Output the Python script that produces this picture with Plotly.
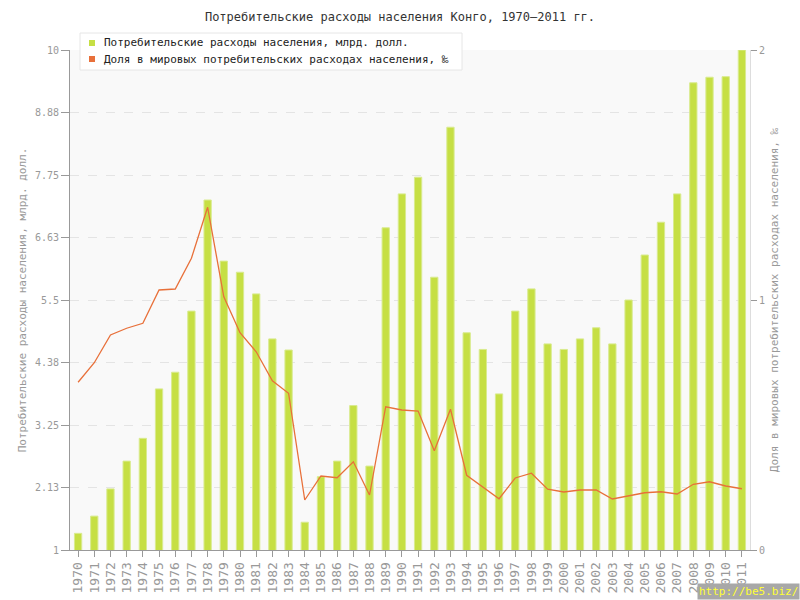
import plotly.graph_objects as go

years = [str(y) for y in range(1970, 2012)]
spending = [1.30, 1.61, 2.10, 2.60, 3.01, 3.90, 4.20, 5.30, 7.30, 6.20,
            6.00, 5.61, 4.80, 4.60, 1.50, 2.32, 2.60, 3.60, 2.51, 6.80,
            7.41, 7.71, 5.91, 8.61, 4.91, 4.61, 3.81, 5.30, 5.70, 4.71,
            4.61, 4.80, 5.00, 4.71, 5.50, 6.31, 6.90, 7.41, 9.41, 9.51,
            9.52, 10.0]
share = [0.671, 0.749, 0.860, 0.887, 0.907, 1.040, 1.044, 1.167, 1.371, 1.013,
         0.869, 0.793, 0.677, 0.627, 0.200, 0.296, 0.289, 0.353, 0.220, 0.573,
         0.560, 0.556, 0.397, 0.563, 0.299, 0.253, 0.205, 0.288, 0.307, 0.243,
         0.232, 0.240, 0.240, 0.204, 0.216, 0.229, 0.233, 0.224, 0.263, 0.273,
         0.256, 0.245]
left_ticks = [1, 2.13, 3.25, 4.38, 5.5, 6.63, 7.75, 8.88, 10]
left_tick_text = ["1", "2.13", "3.25", "4.38", "5.5", "6.63", "7.75", "8.88", "10"]
right_ticks = [0, 1, 2]

name1 = "Потребительские расходы населения, млрд. долл."
name2 = "Доля в мировых потребительских расходах населения, ‰"
bar_color = "#c6df44"
line_color = "#e8703a"
font_family = "DejaVu Sans Mono, Liberation Mono, monospace"

# plot-area geometry in pixels (for legend / watermark placement)
L, R, T, B = 70, 750, 50, 550
W, H = R - L, B - T


def px(x):
    return (x - L) / W


def py(y):
    return (B - y) / H


fig = go.Figure()
fig.add_trace(go.Bar(x=years, y=spending, name=name1, width=0.45,
                     marker=dict(color=bar_color, line=dict(color="#d9eb8f", width=1)),
                     showlegend=False, yaxis="y"))
fig.add_trace(go.Scatter(x=years, y=share, name=name2, mode="lines",
                         line=dict(color=line_color, width=1.3),
                         showlegend=False, yaxis="y2"))

# vertical dashed grid lines drawn over bars
for y in years:
    fig.add_shape(type="line", xref="x", yref="paper", x0=y, x1=y, y0=0, y1=1,
                  line=dict(color="#e4e4e4", width=1, dash="dash"), layer="above")

# legend drawn manually
fig.add_shape(type="rect", xref="paper", yref="paper",
              x0=px(80), x1=px(462), y0=py(70), y1=py(33),
              fillcolor="white", line=dict(color="#e6e6e6", width=1), layer="above")
annotations = []
for i, (nm, col) in enumerate([(name1, bar_color), (name2, line_color)]):
    yc = 43 + 16 * i
    fig.add_shape(type="rect", xref="paper", yref="paper",
                  x0=px(89), x1=px(95), y0=py(yc + 3), y1=py(yc - 3),
                  fillcolor=col, line=dict(width=0), layer="above")
    annotations.append(dict(text=nm, xref="paper", yref="paper", x=px(102), y=py(yc),
                            xanchor="left", yanchor="middle", showarrow=False,
                            font=dict(size=11, color="#222", family=font_family)))

annotations.append(dict(text="http://be5.biz/", xref="paper", yref="paper",
                        x=px(800), y=py(600), xanchor="right", yanchor="bottom",
                        showarrow=False, bgcolor="#a8a8a8", borderpad=1,
                        font=dict(size=11, color="#ffff33", family=font_family)))

fig.update_layout(
    width=800, height=600,
    margin=dict(l=L, r=800 - R, t=T, b=600 - B),
    paper_bgcolor="white", plot_bgcolor="#f9f9f9",
    font=dict(family=font_family, size=10, color="#999"),
    showlegend=False,
    title=dict(text="Потребительские расходы населения Конго, 1970–2011 гг.",
               x=0.5, xanchor="center", y=1 - 17 / 600, yanchor="middle",
               font=dict(size=12, color="#333", family=font_family)),
    xaxis=dict(type="category", range=[-0.5, 41.5], showgrid=False, automargin=False,
               tickmode="array", tickvals=years, ticktext=years,
               tickangle=-90, ticks="outside", ticklen=6, tickcolor="#999",
               showline=True, linecolor="#999", linewidth=1,
               tickfont=dict(size=13, color="#999")),
    yaxis=dict(range=[1, 10], tickvals=left_ticks, ticktext=left_tick_text,
               showgrid=True, gridcolor="#e4e4e4", griddash="dash", automargin=False,
               ticks="outside", ticklen=8, tickcolor="#999",
               showline=True, linecolor="#999", linewidth=1, zeroline=False,
               title=dict(text=name1, font=dict(size=11, color="#999"), standoff=6),
               tickfont=dict(size=10, color="#999")),
    yaxis2=dict(range=[0, 2], tickvals=right_ticks, overlaying="y", side="right",
                showgrid=False, zeroline=False, ticks="outside", ticklen=6,
                automargin=False,
                tickcolor="#999", showline=True, linecolor="#dddddd",
                title=dict(text=name2, font=dict(size=11, color="#999"), standoff=6),
                tickfont=dict(size=10, color="#999")),
    annotations=annotations,
)

fig.write_html("out.html", config={"displayModeBar": False},
               post_script="document.body.style.margin='0';")
